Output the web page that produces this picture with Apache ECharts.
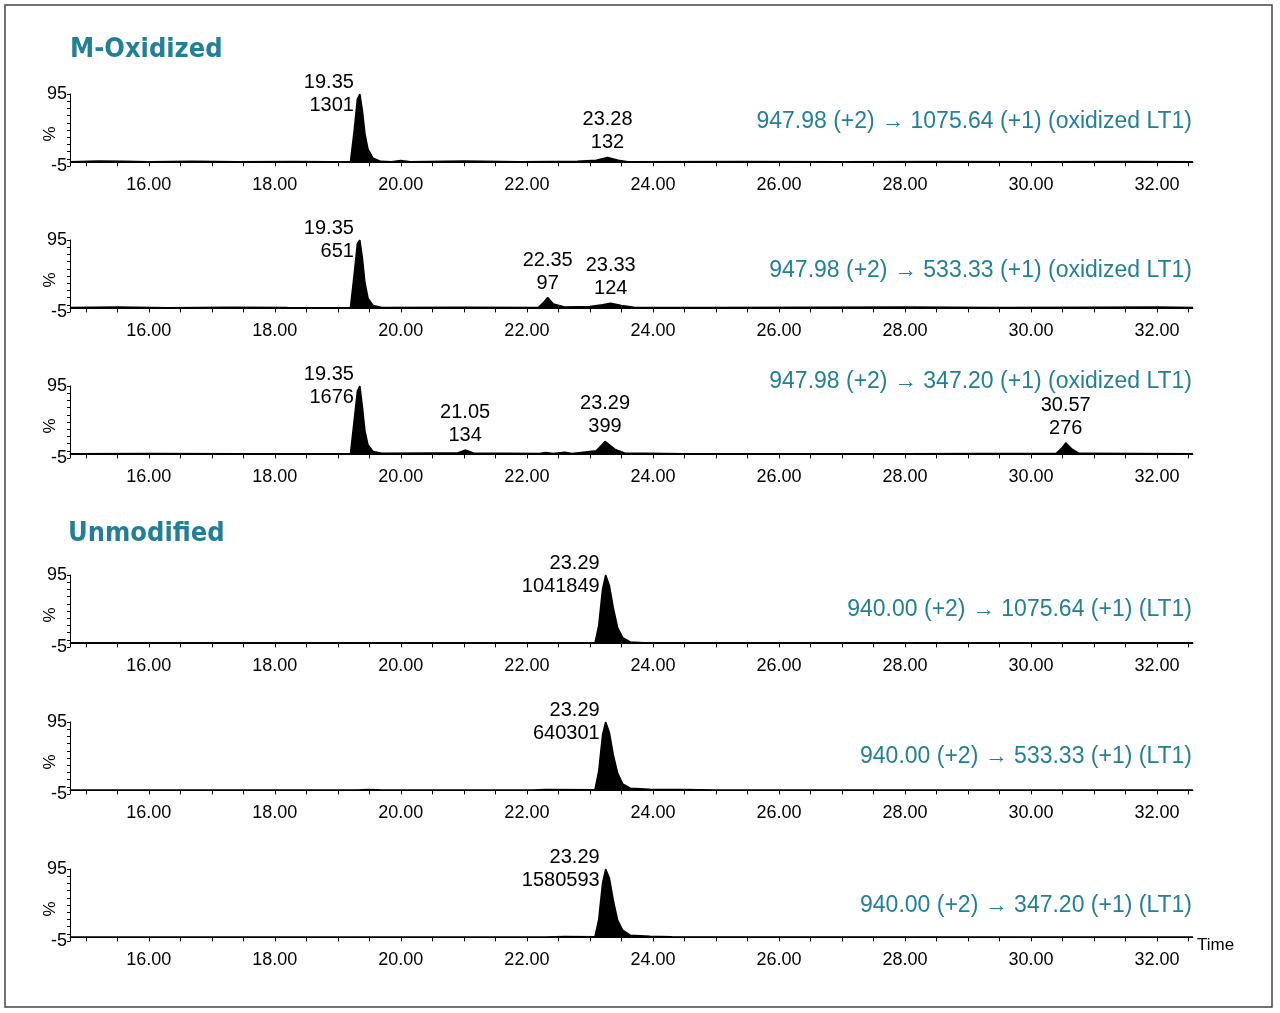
<!DOCTYPE html>
<html>
<head>
<meta charset="utf-8">
<script src="https://cdn.jsdelivr.net/npm/echarts@6/dist/echarts.min.js"></script>
<style>html,body{margin:0;background:#fff}#c{width:1280px;height:1013px}</style>
</head>
<body>
<div id="c"></div>
<script>
// traces: [time (min), relative intensity %]
const trace1 = [[14.75,1],[15.2,1.8],[15.6,1.5],[16.0,0.8],[16.7,1.6],[17.4,0.9],[18.3,1.4],[18.9,1],[19.2,0.8],[19.26,45],[19.31,88],[19.35,95],[19.39,72],[19.43,40],[19.48,18],[19.56,6],[19.68,1.5],[19.85,1],[20.0,2.5],[20.15,0.9],[21.0,1.8],[21.9,1],[22.8,1.5],[23.1,3],[23.28,7],[23.45,3],[23.6,1],[25.4,1.4],[27.0,0.9],[28.6,1.2],[30.0,0.9],[31.5,1.1],[32.57,1]];
const trace2 = [[14.75,1.2],[15.5,2],[16.3,1],[17.3,1.6],[18.2,1.1],[19.2,1],[19.26,48],[19.31,90],[19.35,95],[19.39,70],[19.43,36],[19.48,14],[19.56,4],[19.7,1.2],[21.0,1.5],[22.18,1.2],[22.27,9],[22.33,15],[22.42,6],[22.6,2],[23.0,2.5],[23.2,5],[23.33,7],[23.5,4],[23.7,1.5],[25.0,1.2],[26.5,1.5],[28.0,2],[29.5,1.2],[31.0,1.5],[32.0,2],[32.57,1.2]];
const trace3 = [[14.75,1],[16.0,1.1],[17.5,0.9],[19.2,0.9],[19.26,48],[19.31,88],[19.35,95],[19.39,66],[19.43,33],[19.48,13],[19.56,4],[19.7,1.5],[20.5,2],[20.9,2],[21.02,6],[21.15,2],[22.2,1.2],[22.3,2.5],[22.42,1.2],[22.6,3],[22.72,1.2],[23.1,5],[23.24,18],[23.4,7],[23.55,2],[24.5,1],[26.0,1],[28.0,1],[30.4,1.5],[30.5,10],[30.55,16],[30.64,8],[30.76,1.5],[32.57,1]];
const trace4 = [[14.75,0.8],[16.0,0.8],[19.0,0.8],[21.0,0.8],[23.08,0.8],[23.14,25],[23.2,75],[23.25,95],[23.31,80],[23.37,50],[23.44,22],[23.52,8],[23.64,2],[23.85,0.8],[26.0,0.8],[32.57,0.8]];
const trace5 = [[14.75,0.7],[19.3,0.7],[19.5,1.1],[19.7,0.7],[22.1,0.7],[22.3,1.1],[23.08,1],[23.14,27],[23.2,77],[23.25,95],[23.31,80],[23.37,50],[23.44,24],[23.52,9],[23.64,3],[23.95,1.5],[24.5,1.2],[25.0,0.7],[32.57,0.7]];
const trace6 = [[14.75,0.7],[22.3,0.7],[22.6,1.3],[23.08,1],[23.14,25],[23.2,75],[23.25,95],[23.31,82],[23.37,52],[23.44,24],[23.52,10],[23.64,3],[23.95,1.5],[24.3,0.9],[32.57,0.7]];
const traces = [trace1, trace2, trace3, trace4, trace5, trace6];

// peak annotations: [time, height, time label, area label]
const peaks1 = [[19.35,95,'19.35','1301'],[23.28,7,'23.28','132']];
const peaks2 = [[19.35,95,'19.35','651'],[22.33,15,'22.35','97'],[23.33,7,'23.33','124']];
const peaks3 = [[19.35,95,'19.35','1676'],[21.02,6,'21.05','134'],[23.24,18,'23.29','399'],[30.55,16,'30.57','276']];
const peaks4 = [[23.25,95,'23.29','1041849']];
const peaks5 = [[23.25,95,'23.29','640301']];
const peaks6 = [[23.25,95,'23.29','1580593']];
const peaks = [peaks1, peaks2, peaks3, peaks4, peaks5, peaks6];

const transitions = [
  '947.98 (+2) → 1075.64 (+1) (oxidized LT1)',
  '947.98 (+2) → 533.33 (+1) (oxidized LT1)',
  '947.98 (+2) → 347.20 (+1) (oxidized LT1)',
  '940.00 (+2) → 1075.64 (+1) (LT1)',
  '940.00 (+2) → 533.33 (+1) (LT1)',
  '940.00 (+2) → 347.20 (+1) (LT1)'
];
const xTicks = [16, 18, 20, 22, 24, 26, 28, 30, 32];
const yTicks = [95, -5];

const tops = [94, 240, 386, 575, 722, 869];
const labelY = [123, 272, 383, 611, 758, 907];
const teal = '#237f96';
const font = 'Liberation Sans';

const minor = [];
for (let v = 15; v <= 32.5; v += 0.5) minor.push(v);
const yMinor = [];
for (let v = -5; v <= 95; v += 10) yMinor.push(v);

const grid = [], xAxis = [], yAxis = [], series = [], graphic = [];
traces.forEach((t, i) => {
  grid.push({ left: 70, right: 87, top: tops[i], height: 72 });
  xAxis.push({
    type: 'value', gridIndex: i, min: 14.75, max: 32.57,
    axisLine: { lineStyle: { color: '#000', width: 1 } },
    axisTick: { customValues: minor, length: 4, lineStyle: { color: '#000' } },
    axisLabel: { customValues: xTicks, formatter: v => v.toFixed(2), color: '#000', fontFamily: font, fontSize: 18, margin: 10 },
    splitLine: { show: false }
  });
  yAxis.push({
    type: 'value', gridIndex: i, min: -5, max: 95,
    axisLine: { show: true, lineStyle: { color: '#000' } },
    axisTick: { customValues: yMinor, length: 3, lineStyle: { color: '#000' } },
    axisLabel: { customValues: yTicks, color: '#000', fontFamily: font, fontSize: 18, margin: 3 },
    splitLine: { show: false }
  });
  series.push({
    type: 'line', xAxisIndex: i, yAxisIndex: i, data: t, symbol: 'none',
    lineStyle: { color: '#000', width: 1.5 },
    areaStyle: { color: '#000', opacity: 1, origin: 0 },
    markPoint: {
      symbol: 'circle', symbolSize: 0, animation: false,
      data: peaks[i].map(p => ({
        coord: [p[0], p[1]],
        label: {
          show: true, formatter: p[2] + '\n' + p[3],
          position: p[1] > 50 ? 'left' : 'top', distance: p[1] > 50 ? 6 : 3,
          align: p[1] > 50 ? 'right' : 'center',
          color: '#000', fontFamily: font, fontSize: 20, lineHeight: 23
        }
      }))
    }
  });
  graphic.push({
    type: 'text', right: 88, top: labelY[i] - 13,
    style: { text: transitions[i], fill: teal, font: '23px "Liberation Sans"', textAlign: 'right' }
  }, {
    type: 'text', x: 50, y: tops[i] + 40, rotation: Math.PI / 2,
    style: { text: '%', fill: '#000', font: '17px "Liberation Sans"', textAlign: 'center', textVerticalAlign: 'middle' }
  });
});

graphic.push(
  { type: 'rect', shape: { x: 5, y: 5, width: 1267, height: 1002 }, style: { fill: 'none', stroke: '#444', lineWidth: 1.5 } },
  { type: 'text', left: 70, top: 36, style: { text: 'M-Oxidized', fill: teal, font: 'bold 27px "DejaVu Sans Condensed"' } },
  { type: 'text', left: 68, top: 520, style: { text: 'Unmodified', fill: teal, font: 'bold 27px "DejaVu Sans Condensed"' } },
  { type: 'text', left: 1197, top: 937, style: { text: 'Time', fill: '#000', font: '17px "Liberation Sans"' } }
);

const chart = echarts.init(document.getElementById('c'));
chart.setOption({ animation: false, grid, xAxis, yAxis, series, graphic });
</script>
</body>
</html>
